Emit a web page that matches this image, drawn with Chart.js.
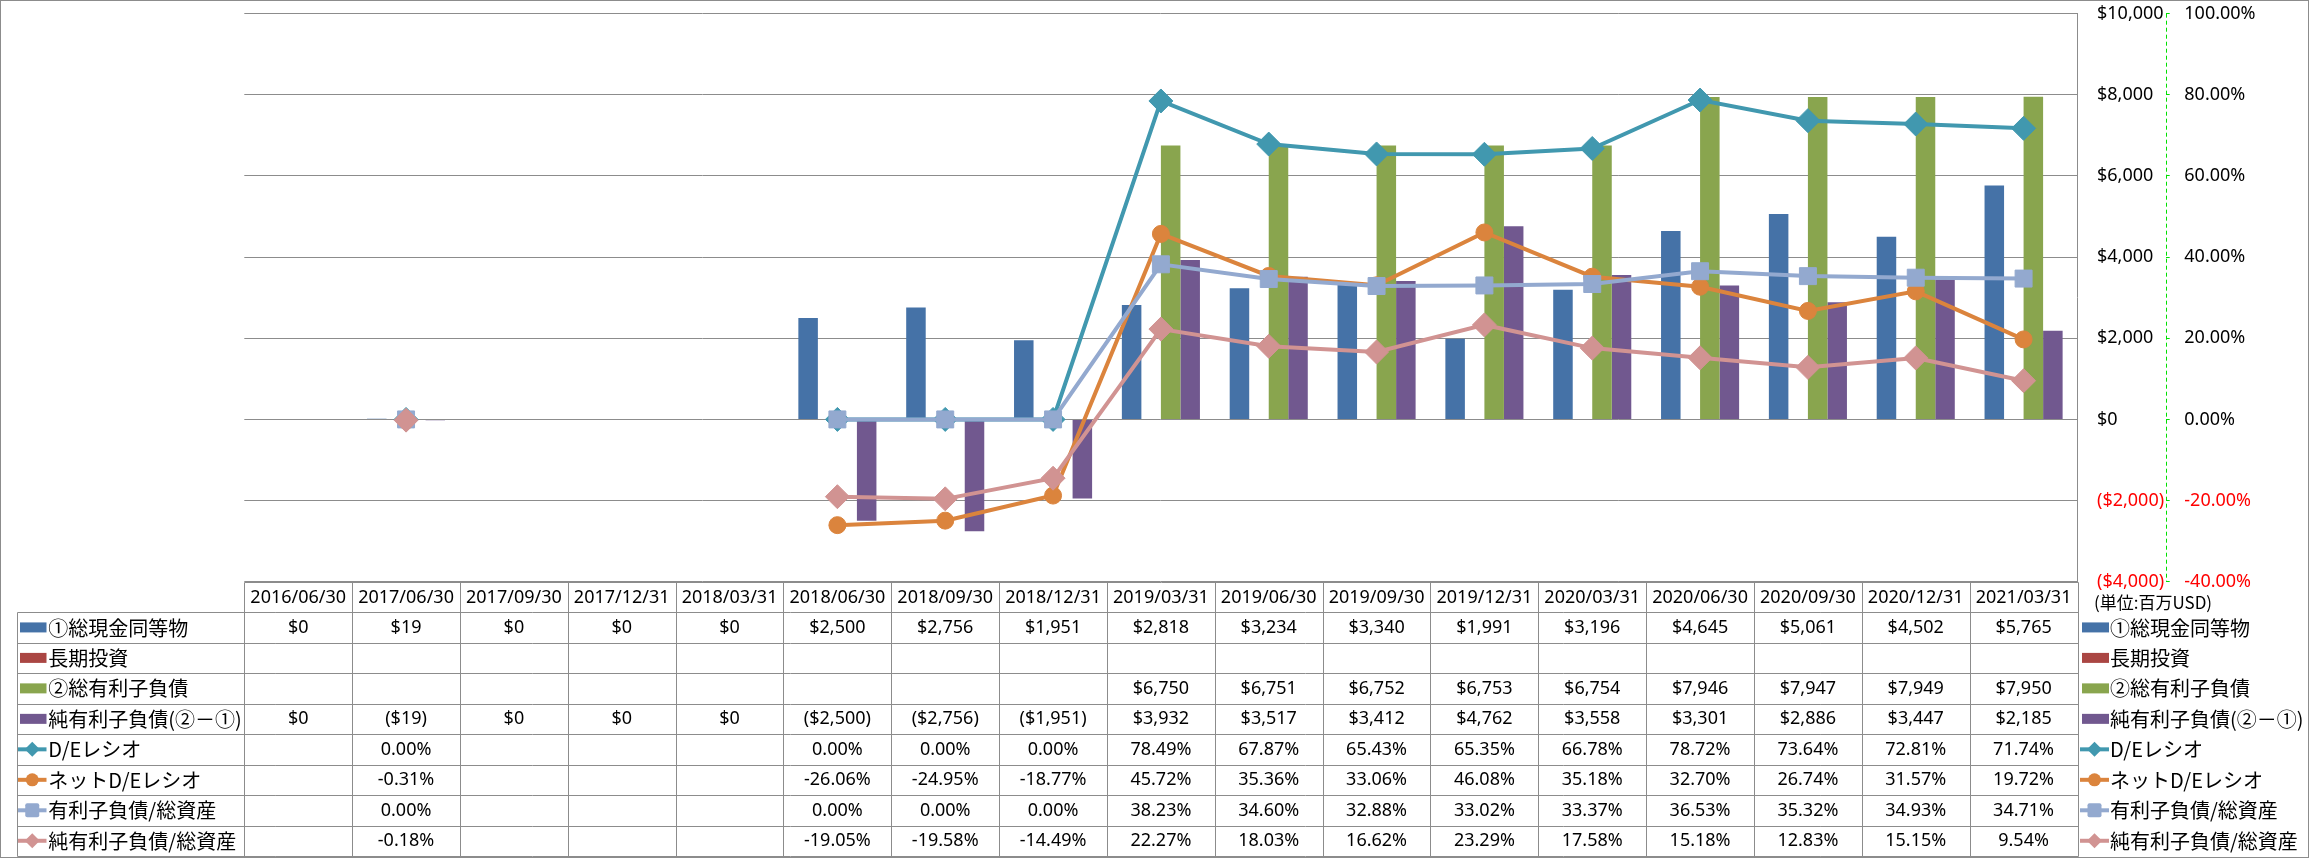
<!DOCTYPE html>
<html><head><meta charset="utf-8">
<script src="https://cdn.jsdelivr.net/npm/chart.js@4/dist/chart.umd.min.js"></script>
<style>html,body{margin:0;padding:0;background:#fff}canvas{display:block}</style>
</head><body>
<canvas id="c" width="2309" height="858"></canvas>
<script>
const categories = ['2016/06/30','2017/06/30','2017/09/30','2017/12/31','2018/03/31','2018/06/30','2018/09/30','2018/12/31','2019/03/31','2019/06/30','2019/09/30','2019/12/31','2020/03/31','2020/06/30','2020/09/30','2020/12/31','2021/03/31'];
const cashEquivalents = [0,19,0,0,0,2500,2756,1951,2818,3234,3340,1991,3196,4645,5061,4502,5765];
const longTermInvestments = [null,null,null,null,null,null,null,null,null,null,null,null,null,null,null,null,null];
const totalDebt = [null,null,null,null,null,null,null,null,6750,6751,6752,6753,6754,7946,7947,7949,7950];
const netDebt = [0,-19,0,0,0,-2500,-2756,-1951,3932,3517,3412,4762,3558,3301,2886,3447,2185];
const deRatio = [null,0,null,null,null,0,0,0,78.49,67.87,65.43,65.35,66.78,78.72,73.64,72.81,71.74];
const netDeRatio = [null,-0.31,null,null,null,-26.06,-24.95,-18.77,45.72,35.36,33.06,46.08,35.18,32.70,26.74,31.57,19.72];
const debtToAssets = [null,0,null,null,null,0,0,0,38.23,34.60,32.88,33.02,33.37,36.53,35.32,34.93,34.71];
const netDebtToAssets = [null,-0.18,null,null,null,-19.05,-19.58,-14.49,22.27,18.03,16.62,23.29,17.58,15.18,12.83,15.15,9.54];
const dollarAxis = {min:-4000, max:10000, step:2000};
const percentAxis = {min:-40, max:100, step:20};
const seriesNames = ['①総現金同等物','長期投資','②総有利子負債','純有利子負債(②－①)','D/Eレシオ','ネットD/Eレシオ','有利子負債/総資産','純有利子負債/総資産'];
const unitLabel = '(単位:百万USD)';

const colors = ['#4572A7','#AA4643','#89A54E','#71588F','#4198AF','#DB843D','#93A9CF','#D19392'];
const barSeries = [cashEquivalents, longTermInvestments, totalDebt, netDebt];
const lineSeries = [deRatio, netDeRatio, debtToAssets, netDebtToAssets];
const lineStyles = [
  {style:'rectRot', r:12, key:7.5},
  {style:'circle', r:8.5, key:6.5},
  {style:'rect', r:12, key:7},
  {style:'rectRot', r:12, key:7.5}
];
const NUM_FONT = "'Noto Sans', 'DejaVu Sans', sans-serif";
const JP_FONT = "'Noto Sans CJK JP', 'Noto Sans', sans-serif";

function fmtDollar(v){
  if (v === null || v === undefined) return '';
  const s = '$' + Math.abs(v).toLocaleString('en-US');
  return v < 0 ? '(' + s + ')' : s;
}
function fmtPct(v){
  if (v === null || v === undefined) return '';
  return v.toFixed(2) + '%';
}

function drawMarker(ctx, style, x, y, r, color){
  ctx.fillStyle = color;
  ctx.beginPath();
  if (style === 'rectRot'){
    ctx.moveTo(x, y - r); ctx.lineTo(x + r, y); ctx.lineTo(x, y + r); ctx.lineTo(x - r, y); ctx.closePath();
  } else if (style === 'circle'){
    ctx.arc(x, y, r, 0, Math.PI * 2);
  } else {
    const c = 2;
    ctx.moveTo(x - r + c, y - r); ctx.lineTo(x + r - c, y - r); ctx.quadraticCurveTo(x + r, y - r, x + r, y - r + c);
    ctx.lineTo(x + r, y + r - c); ctx.quadraticCurveTo(x + r, y + r, x + r - c, y + r);
    ctx.lineTo(x - r + c, y + r); ctx.quadraticCurveTo(x - r, y + r, x - r, y + r - c);
    ctx.lineTo(x - r, y - r + c); ctx.quadraticCurveTo(x - r, y - r, x - r + c, y - r);
    ctx.closePath();
  }
  ctx.fill();
}

function drawKey(ctx, idx, x0, x1, cy){
  if (idx < 4){
    ctx.fillStyle = colors[idx];
    ctx.fillRect(x0 + 2, cy - 5, (x1 - x0) - 2, 10);
  } else {
    const ls = lineStyles[idx - 4];
    ctx.strokeStyle = colors[idx];
    ctx.lineWidth = 4;
    ctx.beginPath(); ctx.moveTo(x0, cy); ctx.lineTo(x1, cy); ctx.stroke();
    drawMarker(ctx, ls.style, (x0 + x1) / 2, cy, ls.key, colors[idx]);
  }
}

const tablePlugin = {
  id: 'dataTable',
  afterDraw(chart){
    const ctx = chart.ctx;
    const xs = chart.scales.x;
    const y1 = chart.scales.y1;
    const area = chart.chartArea;
    const n = categories.length;
    const colW = (area.right - area.left) / n;
    const top = area.bottom;
    const rowH = 30.48;
    const labelLeft = 16.7;
    const rows = 8;
    const bottom = top + rowH * (rows + 1);
    const px = v => Math.round(v) + 0.5;
    ctx.save();
    // dashed green percent-axis line
    ctx.strokeStyle = '#00E000';
    ctx.lineWidth = 1;
    ctx.setLineDash([4, 3]);
    ctx.beginPath();
    ctx.moveTo(px(y1.left), y1.top); ctx.lineTo(px(y1.left), y1.bottom);
    ctx.stroke();
    ctx.setLineDash([]);

    ctx.strokeStyle = '#8C8C8C';
    ctx.lineWidth = 1;
    // outer border
    ctx.strokeRect(0.5, 0.5, chart.width - 1, chart.height - 1);
    // horizontal lines
    ctx.beginPath();
    ctx.moveTo(px(area.left), px(top)); ctx.lineTo(px(area.right), px(top));
    for (let r = 1; r <= rows + 1; r++){
      const y = px(top + r * rowH);
      ctx.moveTo(px(labelLeft), y); ctx.lineTo(px(area.right), y);
    }
    // vertical lines
    for (let i = 0; i <= n; i++){
      const x = px(area.left + i * colW);
      ctx.moveTo(x, px(top)); ctx.lineTo(x, px(bottom));
    }
    ctx.moveTo(px(labelLeft), px(top + rowH)); ctx.lineTo(px(labelLeft), px(bottom));
    ctx.stroke();

    ctx.textBaseline = 'middle';
    ctx.fillStyle = '#000';
    // header
    ctx.font = '18px ' + NUM_FONT;
    ctx.textAlign = 'center';
    for (let i = 0; i < n; i++){
      ctx.fillText(categories[i], xs.getPixelForValue(i), top + rowH / 2 + 0.5);
    }
    const allSeries = barSeries.concat(lineSeries);
    for (let r = 0; r < rows; r++){
      const cy = top + rowH * (r + 1.5);
      ctx.font = '18px ' + NUM_FONT;
      ctx.textAlign = 'center';
      ctx.fillStyle = '#000';
      const data = allSeries[r];
      for (let i = 0; i < n; i++){
        const s = r < 4 ? fmtDollar(data[i]) : fmtPct(data[i]);
        if (s) ctx.fillText(s, xs.getPixelForValue(i), cy + 0.5);
      }
      drawKey(ctx, r, 18, 46.5, cy);
      ctx.font = '20px ' + JP_FONT;
      ctx.textAlign = 'left';
      ctx.fillStyle = '#000';
      ctx.fillText(seriesNames[r], 48.3, cy + 0.5);
      drawKey(ctx, r, 2080, 2109, cy);
      ctx.font = '20px ' + JP_FONT;
      ctx.fillStyle = '#000';
      ctx.fillText(seriesNames[r], 2110, cy + 0.5);
    }
    ctx.font = '17px ' + JP_FONT;
    ctx.textAlign = 'left';
    ctx.fillStyle = '#000';
    ctx.fillText(unitLabel, 2094, 603);
    ctx.restore();
  }
};

const datasets = [];
for (let i = 0; i < 4; i++){
  datasets.push({
    type: 'bar', label: seriesNames[i], data: barSeries[i], yAxisID: 'y',
    backgroundColor: colors[i], borderWidth: 0, order: 5,
    categoryPercentage: 0.724, barPercentage: 1.0
  });
}
const lineOrders = [4, 3, 2, 1];
for (let j = 0; j < 4; j++){
  const ls = lineStyles[j];
  datasets.push({
    type: 'line', label: seriesNames[4 + j], data: lineSeries[j], yAxisID: 'y1',
    borderColor: colors[4 + j], backgroundColor: colors[4 + j], borderWidth: 4,
    pointStyle: ls.style, pointRadius: ls.r, pointBackgroundColor: colors[4 + j],
    pointBorderColor: colors[4 + j], pointBorderWidth: 1, tension: 0,
    spanGaps: false, order: lineOrders[j], fill: false
  });
}

function fixWidth(w){
  return s => { s.width = w; s.paddingTop = 0; s.paddingBottom = 0; };
}

new Chart(document.getElementById('c'), {
  data: { labels: categories, datasets },
  options: {
    responsive: false, animation: false, devicePixelRatio: 1,
    layout: { padding: { left: 244.3, top: 13.7, right: 43.3, bottom: 276.3 } },
    plugins: { legend: { display: false }, tooltip: { enabled: false } },
    scales: {
      x: { type: 'category', display: false, offset: true, grid: { display: false } },
      y: {
        position: 'right', min: dollarAxis.min, max: dollarAxis.max,
        afterFit: fixWidth(88.2),
        ticks: {
          stepSize: dollarAxis.step, padding: 19.5,
          font: { family: NUM_FONT, size: 18 },
          color: c => (c.tick && c.tick.value < 0) ? '#FF0000' : '#000000',
          callback: v => fmtDollar(v)
        },
        grid: { color: '#8C8C8C', lineWidth: 1, drawTicks: false },
        border: { display: true, color: '#8C8C8C', width: 1 }
      },
      y1: {
        position: 'right', min: percentAxis.min, max: percentAxis.max,
        afterFit: fixWidth(100),
        ticks: {
          stepSize: percentAxis.step, padding: 14.6,
          font: { family: NUM_FONT, size: 18 },
          color: c => (c.tick && c.tick.value < 0) ? '#FF0000' : '#000000',
          callback: v => fmtPct(v)
        },
        grid: { drawOnChartArea: false, drawTicks: true, tickLength: 4, color: '#00E000' },
        border: { display: false }
      }
    }
  },
  plugins: [tablePlugin]
});
</script>
</body></html>
